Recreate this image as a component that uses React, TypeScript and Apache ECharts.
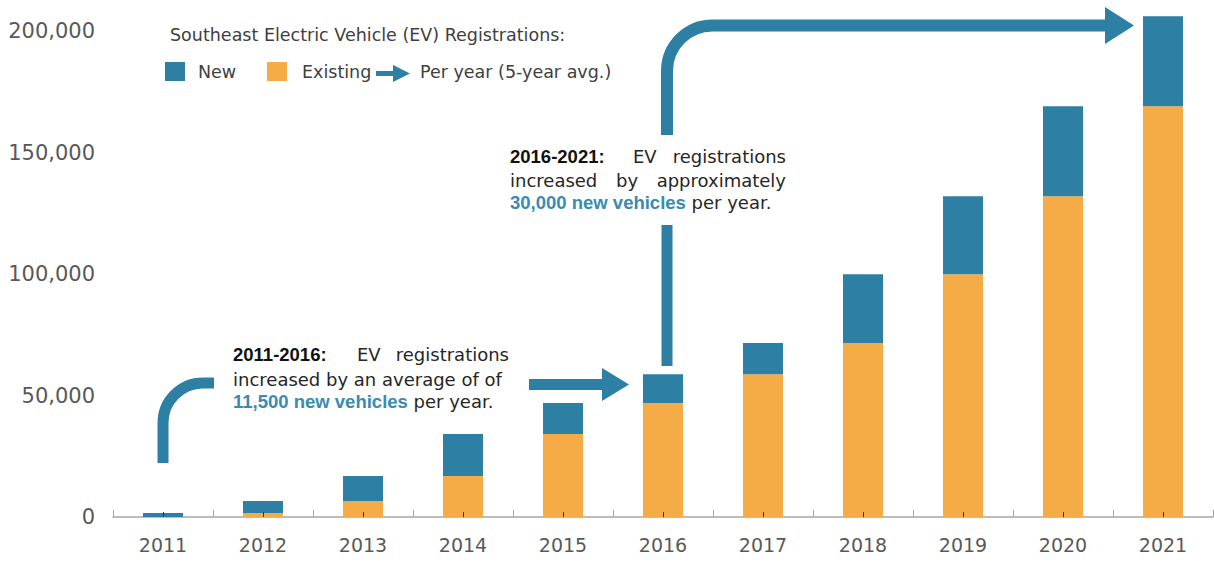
import React, { useEffect, useRef } from "react";
import * as echarts from "echarts";

const years = ["2011", "2012", "2013", "2014", "2015", "2016", "2017", "2018", "2019", "2020", "2021"];
const existingValues = [0, 1600, 6600, 16900, 34200, 46900, 58800, 71600, 100000, 132100, 169100];
const newValues = [1600, 5000, 10300, 17300, 12700, 11900, 12800, 28400, 32100, 37000, 37100];
const yTickValues = [0, 50000, 100000, 150000, 200000];

const TEAL = "#2d80a3";
const ORANGE = "#f5ac46";
const FONT = "DejaVu Sans";
const BOLD_FONT = "Liberation Sans";

echarts.graphic.registerShape(
  "curveArrowA",
  echarts.graphic.extendPath("M163 463 L163 423 A40 40 0 0 1 203 383 L214 383", {})
);
echarts.graphic.registerShape(
  "curveArrowB",
  echarts.graphic.extendPath("M667 135 L667 71 A45.5 45.5 0 0 1 712.5 25.5 L1106 25.5", {})
);

export default function App() {
  const ref = useRef<HTMLDivElement>(null);
  useEffect(() => {
    if (!ref.current) return;
    const chart = echarts.init(ref.current, null, { renderer: "svg" });
    const txt = (x: number, y: number, text: string, extra: any = {}) => ({
      type: "text",
      x,
      y,
      style: {
        text,
        fontFamily: FONT,
        fontSize: 18,
        fill: "#262626",
        align: "left",
        verticalAlign: "middle",
        ...extra,
      },
    });
    const boldDark = { fontFamily: BOLD_FONT, fontSize: 18.5, fontWeight: "bold", fill: "#111" };
    const rich = {
      b: { fontFamily: BOLD_FONT, fontSize: 18.5, fontWeight: "bold", fill: "#3a8bb0", color: "#3a8bb0" },
    };
    chart.setOption({
      animation: false,
      grid: { left: 113, right: 1, top: 7, bottom: 46 },
      legend: [
        {
          data: ["New"],
          left: 165,
          top: 62,
          padding: 0,
          itemWidth: 20,
          itemHeight: 19,
          icon: "rect",
          selectedMode: false,
          textStyle: { fontFamily: FONT, fontSize: 17.5, color: "#404040", padding: [0, 0, 0, 8] },
        },
        {
          data: ["Existing"],
          left: 267,
          top: 62,
          padding: 0,
          itemWidth: 20,
          itemHeight: 19,
          icon: "rect",
          selectedMode: false,
          textStyle: { fontFamily: FONT, fontSize: 17.5, color: "#404040", padding: [0, 0, 0, 10] },
        },
      ],
      xAxis: [
        {
          type: "category",
          data: years,
          axisLine: { lineStyle: { color: "#a6a6a6", width: 1.5 } },
          axisTick: { show: true, inside: true, length: 7, lineStyle: { color: "#a6a6a6" } },
          axisLabel: { fontFamily: FONT, fontSize: 19, color: "#595959", margin: 18 },
        },
        {
          type: "category",
          data: years,
          position: "bottom",
          z: 5,
          axisLine: { show: false },
          axisTick: { show: true, inside: true, alignWithLabel: true, length: 5, lineStyle: { color: "#333" } },
          axisLabel: { show: false },
        },
      ],
      yAxis: {
        type: "value",
        min: 0,
        max: 210000,
        interval: 50000,
        splitLine: { show: false },
        axisLine: { show: false },
        axisTick: { show: false },
        axisLabel: {
          fontFamily: FONT,
          fontSize: 21,
          color: "#595959",
          margin: 18,
          formatter: (v: number) => (yTickValues.includes(v) ? v.toLocaleString("en-US") : ""),
        },
      },
      series: [
        {
          name: "Existing",
          type: "bar",
          stack: "ev",
          barWidth: 40,
          itemStyle: { color: ORANGE },
          data: existingValues,
        },
        {
          name: "New",
          type: "bar",
          stack: "ev",
          barWidth: 40,
          itemStyle: { color: TEAL },
          data: newValues,
        },
      ],
      graphic: [
        txt(170, 35, "Southeast Electric Vehicle (EV) Registrations:", { fontSize: 17.5, fill: "#404040" }),
        // legend arrow
        { type: "rect", shape: { x: 376, y: 71, width: 19, height: 5 }, style: { fill: TEAL } },
        { type: "polygon", shape: { points: [[393, 65], [410, 73.5], [393, 82]] }, style: { fill: TEAL } },
        txt(420, 72, "Per year (5-year avg.)", { fontSize: 17.5, fill: "#404040" }),
        // arrow 1
        { type: "curveArrowA", style: { stroke: TEAL, lineWidth: 11, fill: "none" } },
        { type: "rect", shape: { x: 529, y: 379, width: 74, height: 11 }, style: { fill: TEAL } },
        { type: "polygon", shape: { points: [[602, 368], [629, 384.5], [602, 401]] }, style: { fill: TEAL } },
        // arrow 2
        { type: "rect", shape: { x: 661.5, y: 225, width: 11, height: 141 }, style: { fill: TEAL } },
        { type: "curveArrowB", style: { stroke: TEAL, lineWidth: 12, fill: "none" } },
        { type: "polygon", shape: { points: [[1105, 7], [1134, 25.5], [1105, 44]] }, style: { fill: TEAL } },
        // annotation 1
        txt(233, 354, "2011-2016:", boldDark),
        txt(357, 354, "EV"),
        txt(509, 354, "registrations", { align: "right" }),
        txt(233, 379, "increased by an average of of"),
        txt(233, 401, "{b|11,500 new vehicles} per year.", { rich }),
        // annotation 2
        txt(510, 156, "2016-2021:", boldDark),
        txt(633, 156, "EV"),
        txt(786, 156, "registrations", { align: "right" }),
        txt(510, 180, "increased"),
        txt(616, 180, "by"),
        txt(786, 180, "approximately", { align: "right" }),
        txt(510, 202, "{b|30,000 new vehicles} per year.", { rich }),
      ],
    });
    return () => chart.dispose();
  }, []);
  return (
    <div
      ref={ref}
      style={{ position: "absolute", left: 0, top: 0, width: 1214, height: 563 }}
    />
  );
}
